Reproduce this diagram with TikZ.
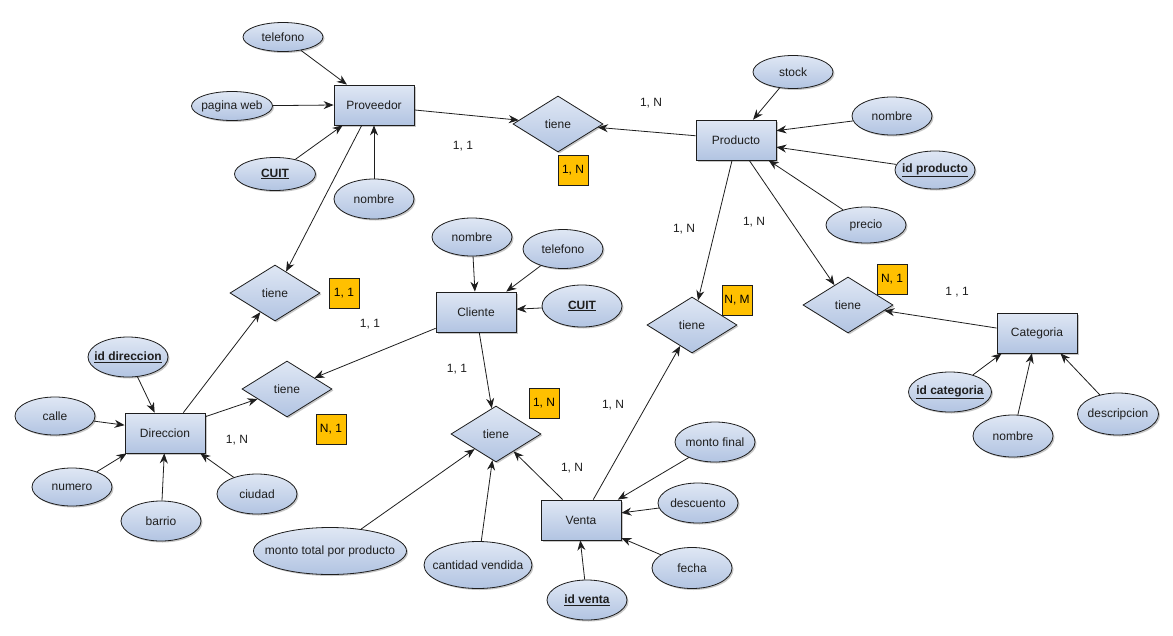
\documentclass[tikz,border=0pt]{standalone}
\usepackage{fontspec}
\setmainfont{Liberation Sans}
\usetikzlibrary{shapes.geometric,arrows.meta,shadows}
\definecolor{fillA}{HTML}{DFE7F4}
\definecolor{fillB}{HTML}{B2C4E2}
\definecolor{cardc}{HTML}{FFC000}
\definecolor{ink}{HTML}{1E1E1E}
\tikzset{
  base/.style={draw=ink, line width=0.8pt, top color=fillA, bottom color=fillB,
    font=\fontsize{12}{14}\selectfont, text=ink, inner sep=0pt,
    drop shadow={shadow xshift=1.5pt, shadow yshift=-1.5pt, opacity=0.22, fill=black}},
  ent/.style={base, rectangle, minimum width=80pt, minimum height=40pt},
  rel/.style={base, diamond, minimum width=90pt, minimum height=56pt},
  attr/.style={base, ellipse, inner xsep=-14pt, minimum width=80pt, minimum height=38pt},
  cardbox/.style={draw=ink, fill=cardc, line width=0.6pt, minimum size=30pt, inner sep=0pt,
    font=\fontsize{12}{14}\selectfont, text=black},
  lbl/.style={font=\fontsize{12}{14}\selectfont, text=ink, inner sep=0pt},
  arr/.style={draw=ink, line width=0.8pt, -{Stealth[length=10pt,width=8pt]}},
}
\newcommand{\keyattr}[1]{\underline{\textbf{#1}}}
\begin{document}
\begin{tikzpicture}[x=1pt,y=-1pt]
\useasboundingbox (0,0) rectangle (1173,635);
\fill[white] (0,0) rectangle (1173,635);

% entities
\node[ent] (prov) at (374,105) {Proveedor};
\node[ent] (prod) at (736,140) {Producto};
\node[ent] (dir) at (165,433) {Direccion};
\node[ent] (cli) at (476,312) {Cliente};
\node[ent] (venta) at (581,520) {Venta};
\node[ent] (cat) at (1037,333) {Categoria};

% relationships
\node[rel] (r1) at (558,124) {tiene};
\node[rel] (r2) at (275,293) {tiene};
\node[rel] (r3) at (287,389) {tiene};
\node[rel] (r4) at (496,434) {tiene};
\node[rel] (r5) at (692,325) {tiene};
\node[rel] (r6) at (848,305) {tiene};

% Proveedor attributes
\node[attr, minimum height=29pt] (ptel) at (283,37) {telefono};
\node[attr, minimum width=81pt, minimum height=29pt] (pweb) at (232,106) {pagina web};
\node[attr, minimum width=81pt, minimum height=33pt] (pcuit) at (275,174) {\keyattr{CUIT}};
\node[attr, minimum height=40pt] (pnom) at (374,199) {nombre};

% Producto attributes
\node[attr, minimum height=33pt] (stock) at (793,72) {stock};
\node[attr] (prnom) at (892,116) {nombre};
\node[attr] (prid) at (935,170) {\keyattr{id producto}};
\node[attr, minimum height=36pt] (precio) at (866,225) {precio};

% Direccion attributes
\node[attr, minimum height=40pt] (did) at (128,357) {\keyattr{id direccion}};
\node[attr] (calle) at (55,416) {calle};
\node[attr] (numero) at (72,487) {numero};
\node[attr, minimum height=40pt] (barrio) at (161,521) {barrio};
\node[attr, minimum height=40pt] (ciudad) at (257,494) {ciudad};

% Cliente attributes
\node[attr] (cnom) at (472,237) {nombre};
\node[attr, minimum height=39pt] (ctel) at (563,249) {telefono};
\node[attr, minimum height=42pt] (ccuit) at (582,306) {\keyattr{CUIT}};

% Venta attributes
\node[attr, minimum height=40pt] (mfinal) at (715,442) {monto final};
\node[attr, minimum height=40pt] (desc) at (698,503) {descuento};
\node[attr, minimum height=41pt] (fecha) at (692,568) {fecha};
\node[attr, minimum height=40pt] (vid) at (587,600) {\keyattr{id venta}};

% relationship attributes
\node[attr, minimum width=153pt, minimum height=47pt] (mtp) at (330,551) {monto total por producto};
\node[attr, minimum width=108pt, minimum height=47pt] (cv) at (478,565) {cantidad vendida};

% Categoria attributes
\node[attr, minimum width=83pt, minimum height=40pt] (catid) at (950,392) {\keyattr{id categoria}};
\node[attr, minimum height=42pt] (catnom) at (1013,436) {nombre};
\node[attr, minimum width=81pt, minimum height=42pt] (catdesc) at (1118,414) {descripcion};

% cardinality labels
\node[lbl] (l1) at (463,146) {1, 1};
\node[lbl] (l2) at (651,103) {1, N};
\node[lbl] (l3) at (684,229) {1, N};
\node[lbl] (l4) at (754,222) {1, N};
\node[lbl] (l5) at (957,292) {1 , 1};
\node[lbl] (l6) at (370,324) {1, 1};
\node[lbl] (l7) at (457,369) {1, 1};
\node[lbl] (l8) at (237,440) {1, N};
\node[lbl] (l9) at (613,405) {1, N};
\node[lbl] (l10) at (572,468) {1, N};

% yellow boxes
\node[cardbox] (c1) at (573,170) {1, N};
\node[cardbox] (c2) at (344,293) {1, 1};
\node[cardbox] (c3) at (331,429) {N, 1};
\node[cardbox] (c4) at (544,403) {1, N};
\node[cardbox] (c5) at (737,300) {N, M};
\node[cardbox] (c6) at (892,279) {N, 1};

% attribute connectors
\draw[arr] (ptel) -- (prov.143);
\draw[arr] (pweb) -- (prov.west);
\draw[arr] (pcuit) -- (prov.213);
\draw[arr] (pnom) -- (prov.south);

\draw[arr] (stock) -- (prod.50);
\draw[arr] (prnom) -- (prod.13);
\draw[arr] (prid) -- (prod.350);
\draw[arr] (precio) -- (prod.328);

\draw[arr] (did) -- (dir.117);
\draw[arr] (calle) -- (dir.169);
\draw[arr] (numero) -- (dir.208);
\draw[arr] (barrio) -- (dir.268);
\draw[arr] (ciudad) -- (dir.330);

\draw[arr] (cnom) -- (cli.93);
\draw[arr] (ctel) -- (cli.34);
\draw[arr] (ccuit) -- (cli.4);

\draw[arr] (mfinal) -- (venta.29);
\draw[arr] (desc) -- (venta.10);
\draw[arr] (fecha) -- (venta.336);
\draw[arr] (vid) -- (venta.268);

\draw[arr] (mtp) -- (r4);
\draw[arr] (cv) -- (r4);

\draw[arr] (catid) -- (cat.210);
\draw[arr] (catnom) -- (cat.256);
\draw[arr] (catdesc) -- (cat.319);

% relationship connectors
\draw[arr] (prov.353) -- (r1);
\draw[arr] (prod.174) -- (r1);
\draw[arr] (prov.239) -- (r2);
\draw[arr] (dir.48) -- (r2);
\draw[arr] (dir.22) -- (r3);
\draw[arr] (cli.202) -- (r3);
\draw[arr] (cli.279) -- (r4);
\draw[arr] (venta.132) -- (r4);
\draw[arr] (venta.59) -- (r5);
\draw[arr] (prod.259) -- (r5);
\draw[arr] (prod.303) -- (r6);
\draw[arr] (cat.173) -- (r6);
\end{tikzpicture}
\end{document}
